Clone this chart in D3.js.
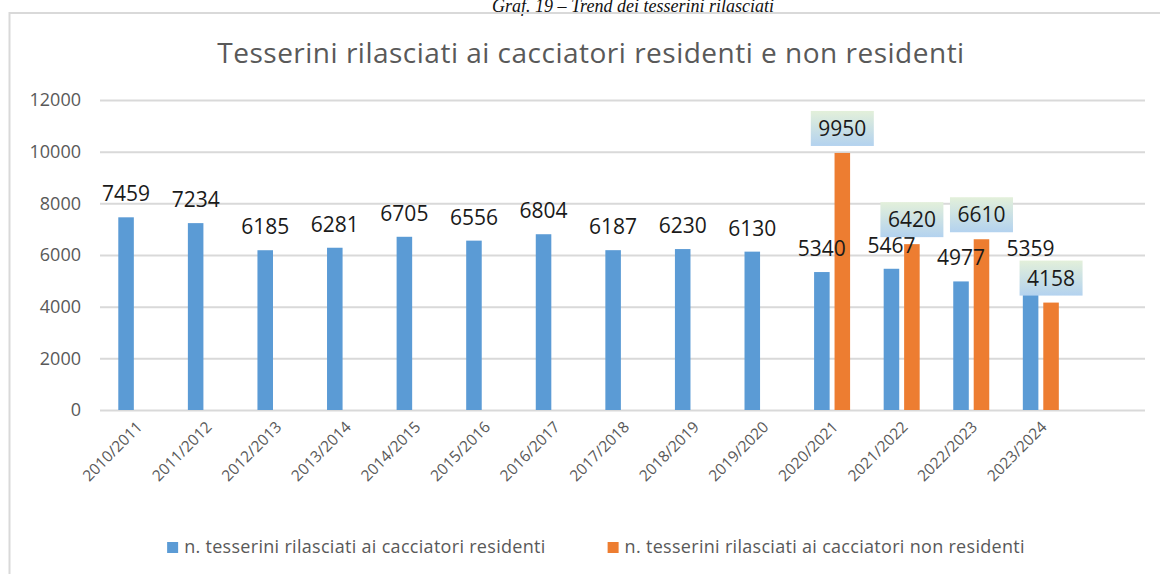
<!DOCTYPE html>
<html>
<head>
<meta charset="utf-8">
<script src="https://cdn.jsdelivr.net/npm/d3@7"></script>
<style>
  body { margin: 0; background: #fff; }
  svg { display: block; font-family: "Open Sans", sans-serif; }
</style>
</head>
<body>
<div id="chart"></div>
<script>
// data
const seasons = ["2010/2011", "2011/2012", "2012/2013", "2013/2014", "2014/2015", "2015/2016", "2016/2017",
  "2017/2018", "2018/2019", "2019/2020", "2020/2021", "2021/2022", "2022/2023", "2023/2024"];
const residenti = [7459, 7234, 6185, 6281, 6705, 6556, 6804, 6187, 6230, 6130, 5340, 5467, 4977, 5359];
const nonResidenti = [null, null, null, null, null, null, null, null, null, null, 9950, 6420, 6610, 4158];
const seriesNames = ["n. tesserini rilasciati ai cacciatori residenti", "n. tesserini rilasciati ai cacciatori non residenti"];
const yTicks = [0, 2000, 4000, 6000, 8000, 10000, 12000];

const W = 1160, H = 574;
const blue = "#5b9bd5", orange = "#ed7d31", grey = "#595959", grid = "#d9d9d9";

let svg = d3.select("#chart").append("svg").attr("width", W).attr("height", H);
svg.append("rect").attr("width", W).attr("height", H).attr("fill", "#fff");

// gradient for label boxes
let grad = svg.append("defs").append("linearGradient")
  .attr("id", "lblGrad").attr("x1", 0).attr("y1", 0).attr("x2", 0).attr("y2", 1);
grad.append("stop").attr("offset", "0%").attr("stop-color", "#e3f0da");
grad.append("stop").attr("offset", "100%").attr("stop-color", "#b3d2ef");

// caption above the chart
svg.append("text")
  .attr("x", 633).attr("y", 12)
  .attr("text-anchor", "middle")
  .style("font-family", "'Liberation Serif', serif")
  .style("font-style", "italic")
  .style("font-size", "18px")
  .attr("fill", "#111")
  .text("Graf. 19 – Trend dei tesserini rilasciati");

// chart frame
svg.append("rect")
  .attr("x", 9.5).attr("y", 13).attr("width", W + 20).attr("height", H + 20)
  .attr("fill", "none").attr("stroke", grid).attr("stroke-width", 2);

// title
svg.append("text")
  .attr("x", 591).attr("y", 63)
  .attr("text-anchor", "middle")
  .style("font-size", "28px")
  .style("letter-spacing", "0.5px")
  .attr("fill", grey)
  .text("Tesserini rilasciati ai cacciatori residenti e non residenti");

// scales
const plotLeft = 100, plotRight = 1145;
const bandStart = 101.5, step = 69.58;
let x = d3.scaleBand().domain(seasons).range([bandStart, bandStart + step * seasons.length]).padding(0);
let xSub = d3.scaleBand().domain([0, 1]).range([-18, 18]).paddingInner(0.24).paddingOuter(0);
let y = d3.scaleLinear().domain([0, 12000]).range([410, 100]);

// y axis + gridlines
let yAxis = svg.append("g")
  .attr("transform", "translate(" + plotLeft + ",0)")
  .call(d3.axisLeft(y).tickValues(yTicks).tickFormat(d3.format("d"))
    .tickSize(-(plotRight - plotLeft)).tickPadding(19));
yAxis.select(".domain").remove();
yAxis.selectAll(".tick line").attr("stroke", grid).attr("stroke-width", 2);
yAxis.selectAll(".tick text")
  .attr("fill", grey)
  .style("font-size", "18px")
  .style("font-family", "'Open Sans', sans-serif");

// x labels
let xAxis = svg.append("g");
xAxis.selectAll("text")
  .data(seasons)
  .enter()
  .append("text")
  .attr("text-anchor", "end")
  .attr("transform", function (d) {
    return "translate(" + (x(d) + x.bandwidth() / 2 + 7) + ",428) rotate(-45)";
  })
  .attr("fill", grey)
  .style("font-size", "15.5px")
  .text(function (d) { return d; });

function cx(i, s) {
  return x(seasons[i]) + x.bandwidth() / 2 + xSub(s);
}

// bars
let res = seasons.map(function (d, i) { return { i: i, v: residenti[i] }; });
let nonRes = seasons.map(function (d, i) { return { i: i, v: nonResidenti[i] }; }).filter(function (d) { return d.v != null; });

svg.append("g").selectAll("rect")
  .data(res)
  .enter()
  .append("rect")
  .attr("x", function (d) { return cx(d.i, 0); })
  .attr("width", xSub.bandwidth())
  .attr("y", function (d) { return y(d.v); })
  .attr("height", function (d) { return y(0) - y(d.v); })
  .attr("fill", blue);

svg.append("g").selectAll("rect")
  .data(nonRes)
  .enter()
  .append("rect")
  .attr("x", function (d) { return cx(d.i, 1); })
  .attr("width", xSub.bandwidth())
  .attr("y", function (d) { return y(d.v); })
  .attr("height", function (d) { return y(0) - y(d.v); })
  .attr("fill", orange);

// labels residenti
svg.append("g").selectAll("text")
  .data(res)
  .enter()
  .append("text")
  .attr("text-anchor", "middle")
  .attr("x", function (d) { return cx(d.i, 0) + xSub.bandwidth() / 2; })
  .attr("y", function (d) { return y(d.v) - 16; })
  .attr("fill", "#1a1a1a")
  .style("font-size", "21px")
  .text(function (d) { return d.v; });

// labels non residenti with boxes
let nl = svg.append("g").selectAll("g")
  .data(nonRes)
  .enter()
  .append("g")
  .attr("transform", function (d) {
    return "translate(" + (cx(d.i, 1) + xSub.bandwidth() / 2) + "," + (y(d.v) - 7) + ")";
  });
nl.append("rect")
  .attr("x", -31.5).attr("y", -35).attr("width", 63).attr("height", 35)
  .attr("fill", "url(#lblGrad)");
nl.append("text")
  .attr("text-anchor", "middle")
  .attr("y", -10)
  .attr("fill", "#1a1a1a")
  .style("font-size", "21px")
  .text(function (d) { return d.v; });

// legend
let legend = svg.append("g");
let items = legend.selectAll("g")
  .data(seriesNames)
  .enter()
  .append("g");
items.append("rect")
  .attr("width", 11).attr("height", 11).attr("y", -11)
  .attr("fill", function (d, i) { return i == 0 ? blue : orange; });
items.append("text")
  .attr("x", 17).attr("y", 0)
  .attr("fill", grey)
  .style("font-size", "18px")
  .style("letter-spacing", "0.3px")
  .text(function (d) { return d; });

let widths = [];
items.each(function () { widths.push(this.getBBox().width); });
const gap = 62;
let total = widths[0] + gap + widths[1];
let lx = 596 - total / 2;
items.attr("transform", function (d, i) {
  let pos = i == 0 ? lx : lx + widths[0] + gap;
  return "translate(" + pos + ",553)";
});
</script>
</body>
</html>
